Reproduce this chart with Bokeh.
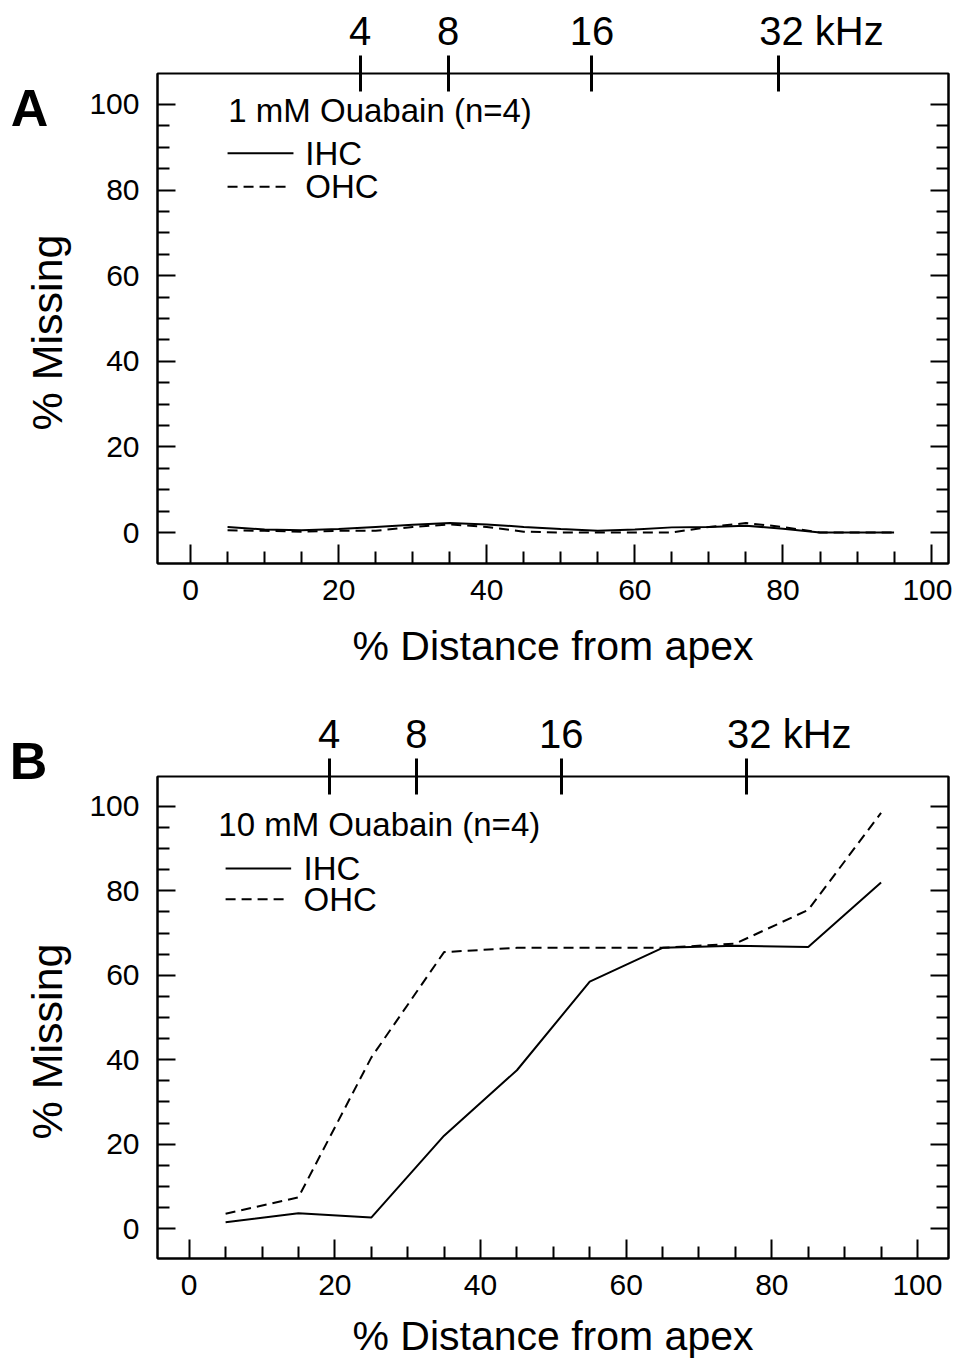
from bokeh.plotting import figure
from bokeh.models import Range1d, LinearAxis, FixedTicker, Label
from bokeh.layouts import column, row
from bokeh.core.properties import value
from bokeh.embed import file_html
from bokeh.resources import INLINE

# ---------------- data ----------------
# Panel A: 1 mM Ouabain (n=4)
a_distance = [5, 10, 15, 20, 25, 30, 35, 40, 45, 50, 55, 60, 65, 70, 75, 80, 85, 90, 95]
a_ihc = [1.3, 0.7, 0.5, 0.8, 1.3, 1.8, 2.2, 1.9, 1.3, 0.8, 0.4, 0.7, 1.2, 1.3, 1.6, 0.9, 0.0, 0.0, 0.0]
a_ohc = [0.5, 0.4, 0.2, 0.4, 0.4, 1.3, 1.9, 1.3, 0.2, 0.0, 0.0, 0.0, 0.0, 1.3, 2.2, 1.3, 0.0, 0.0, 0.0]

# Panel B: 10 mM Ouabain (n=4)
b_distance = [5, 15, 25, 35, 45, 55, 65, 75, 85, 95]
b_ihc = [1.5, 3.6, 2.6, 22.0, 37.5, 58.5, 66.5, 67.0, 66.7, 82.0]
b_ohc = [3.5, 7.4, 40.5, 65.5, 66.5, 66.5, 66.5, 67.5, 75.5, 98.5]

# axis ticks / labels
x_major = [0, 20, 40, 60, 80, 100]
x_minor = [v for v in range(5, 100, 5) if v % 20 != 0]
y_major = [0, 20, 40, 60, 80, 100]
y_minor = [v for v in range(5, 100, 5) if v % 20 != 0]
freq_labels = ["4", "8", "16", "32 kHz"]
a_freq_pos = [22.9, 34.8, 54.2, 79.4]
b_freq_pos = [19.2, 31.2, 51.1, 76.5]

FONT = "Liberation Sans"
SIDE_W = 78


def no_frame_align(fig):
    if "frame_align" in fig.properties():
        fig.frame_align = False


def side_panel(letter, h, letter_xy, ylab_xy):
    s = figure(frame_width=SIDE_W, frame_height=h, x_range=Range1d(0, SIDE_W), y_range=Range1d(0, h),
               x_axis_type=None, y_axis_type=None, output_backend="svg", toolbar_location=None,
               min_border_left=0, min_border_right=0, min_border_top=0, min_border_bottom=0,
               background_fill_color="white", border_fill_color="white")
    no_frame_align(s)
    s.outline_line_color = None
    s.text(x=[letter_xy[0]], y=[h - letter_xy[1]], text=[letter], text_align="center",
           text_baseline="middle", text_font=value(FONT), text_font_size=value("52px"),
           text_font_style="bold", text_color="black")
    s.text(x=[ylab_xy[0]], y=[h - ylab_xy[1]], text=["% Missing"], angle=1.5707963,
           text_align="center", text_baseline="middle", text_font=value(FONT),
           text_font_size=value("43px"), text_color="black")
    return s


def make_panel(title, dist, ihc, ohc, freq_pos, cfg):
    p = figure(frame_width=791, frame_height=cfg["fh"],
               x_range=Range1d(*cfg["xr"]), y_range=Range1d(*cfg["yr"]),
               x_axis_type=None, y_axis_type=None,
               output_backend="svg", toolbar_location=None,
               min_border_left=157 - SIDE_W, min_border_right=4,
               min_border_top=cfg["bt"], min_border_bottom=cfg["bb"],
               background_fill_color="white", border_fill_color="white")
    no_frame_align(p)
    p.outline_line_color = "black"
    p.outline_line_width = 2
    p.outline_line_alpha = 1.0

    def base(ax):
        ax.axis_line_color = "black"
        ax.axis_line_width = 2
        ax.major_tick_line_color = "black"
        ax.major_tick_line_width = 2
        ax.minor_tick_line_color = "black"
        ax.minor_tick_line_width = 2
        ax.major_tick_out = 0
        ax.minor_tick_out = 0
        ax.major_label_text_font = FONT
        ax.major_label_text_font_size = "30px"
        ax.major_label_text_color = "black"

    bottom = LinearAxis(ticker=FixedTicker(ticks=x_major, minor_ticks=x_minor))
    base(bottom)
    bottom.major_tick_in = 19
    bottom.minor_tick_in = 12
    bottom.major_label_standoff = 16
    bottom.axis_label = "% Distance from apex"
    bottom.axis_label_text_font = FONT
    bottom.axis_label_text_font_size = "41px"
    bottom.axis_label_text_font_style = "normal"
    bottom.axis_label_text_color = "black"
    bottom.axis_label_standoff = cfg["xlab_standoff"]
    p.add_layout(bottom, "below")

    left = LinearAxis(ticker=FixedTicker(ticks=y_major, minor_ticks=y_minor))
    base(left)
    left.major_tick_in = 18
    left.minor_tick_in = 12
    left.major_label_standoff = 18
    p.add_layout(left, "left")

    right = LinearAxis(ticker=FixedTicker(ticks=y_major, minor_ticks=y_minor))
    base(right)
    right.major_tick_in = 18
    right.minor_tick_in = 12
    right.major_label_overrides = {v: "" for v in y_major}
    right.major_label_text_font_size = "1px"
    right.major_label_standoff = 0
    p.add_layout(right, "right")

    # frequency scale: ticks crossing the top frame line
    top = LinearAxis(ticker=FixedTicker(ticks=freq_pos, minor_ticks=[]))
    base(top)
    top.axis_line_color = None
    top.major_tick_in = 18
    top.major_tick_out = 18
    top.major_tick_line_width = 3
    top.major_label_overrides = {v: "" for v in freq_pos}
    top.major_label_text_font_size = "1px"
    top.major_label_standoff = 0
    p.add_layout(top, "above")

    # frequency labels ("32 kHz" has its "32" over the tick)
    lab_pos = list(freq_pos)
    lab_pos[-1] = freq_pos[-1] + cfg["khz_shift"]
    top_lab = LinearAxis(ticker=FixedTicker(ticks=lab_pos, minor_ticks=[]))
    base(top_lab)
    top_lab.axis_line_color = None
    top_lab.major_tick_line_color = None
    top_lab.major_tick_in = 0
    top_lab.major_tick_out = 0
    top_lab.major_label_overrides = dict(zip(lab_pos, freq_labels))
    top_lab.major_label_text_font_size = "40px"
    top_lab.major_label_standoff = cfg["freq_standoff"]
    p.add_layout(top_lab, "above")

    # data
    p.line(dist, ihc, line_color="black", line_width=2)
    p.line(dist, ohc, line_color="black", line_width=2, line_dash="10 6")

    # in-plot legend
    lx0, lx1, tx = cfg["leg_x"]
    ty, y1, y2 = cfg["leg_y"]
    p.add_layout(Label(x=cfg["title_x"], y=ty, text=title, text_align="left",
                       text_baseline="middle", text_font=FONT, text_font_size="33px",
                       text_color="black"))
    p.line([lx0, lx1], [y1, y1], line_color="black", line_width=2)
    p.line([lx0, lx1 - 0.8], [y2, y2], line_color="black", line_width=2, line_dash="10 6")
    p.add_layout(Label(x=tx, y=y1, text="IHC", text_align="left", text_baseline="middle",
                       text_font=FONT, text_font_size="33px", text_color="black"))
    p.add_layout(Label(x=tx, y=y2, text="OHC", text_align="left", text_baseline="middle",
                       text_font=FONT, text_font_size="33px", text_color="black"))
    return p


cfg_a = dict(fh=490, xr=(-4.46, 102.35), yr=(-7.24, 107.24), bt=73, bb=107,
             xlab_standoff=20, khz_shift=5.8, freq_standoff=3,
             title_x=5.1, leg_x=(5.0, 13.9, 15.5), leg_y=(98.6, 88.6, 80.8))
cfg_b = dict(fh=482, xr=(-4.35, 104.26), yr=(-7.1, 107.1), bt=105, bb=100,
             xlab_standoff=15, khz_shift=5.9, freq_standoff=3,
             title_x=4.0, leg_x=(5.0, 14.0, 15.7), leg_y=(95.7, 85.3, 78.0))

HA = 73 + 490 + 107
HB = 105 + 482 + 100

pa = make_panel("1 mM Ouabain (n=4)", a_distance, a_ihc, a_ohc, a_freq_pos, cfg_a)
pb = make_panel("10 mM Ouabain (n=4)", b_distance, b_ihc, b_ohc, b_freq_pos, cfg_b)
sa = side_panel("A", HA, (29, 107), (46, 332))
sb = side_panel("B", HB, (28, 759 - HA), (46, 1040 - HA))

layout = column(row(sa, pa, spacing=0), row(sb, pb, spacing=0), spacing=0)
open("out.html", "w").write(file_html(layout, INLINE))
